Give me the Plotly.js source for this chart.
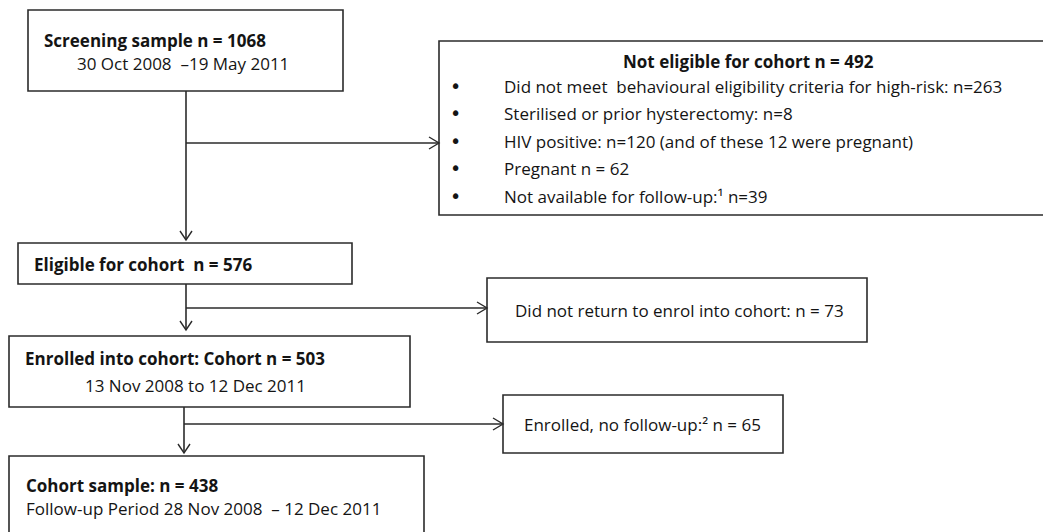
<!DOCTYPE html>
<html>
<head>
<meta charset="utf-8">
<script src="https://cdn.plot.ly/plotly-3.0.1.min.js"></script>
<style>html,body{margin:0;padding:0;background:#fff;}#chart{width:1043px;height:532px;}</style>
</head>
<body>
<div id="chart"></div>
<script>
// ---- data ----
const screeningN = 1068;
const screeningPeriod = "30 Oct 2008  \u201319 May 2011";
const notEligibleN = 492;
const exclusionReasons = [
  "Did not meet  behavioural eligibility criteria for high-risk: n=",
  "Sterilised or prior hysterectomy: n=",
  "HIV positive: n=",
  "Pregnant n = ",
  "Not available for follow-up:\u00b9 n="
];
const exclusionCounts = [263, 8, 120, 62, 39];
const exclusionSuffix = ["", "", " (and of these 12 were pregnant)", "", ""];
const eligibleN = 576;
const notReturnedN = 73;
const enrolledN = 503;
const enrolledPeriod = "13 Nov 2008 to 12 Dec 2011";
const noFollowUpN = 65;
const cohortN = 438;
const followUpPeriod = "Follow-up Period 28 Nov 2008  \u2013 12 Dec 2011";

// ---- layout geometry (pixels) ----
const FONT = "'Open Sans', 'Noto Sans', sans-serif";
const FS = 17;
const TXT = "#141414";
const LINE = "#2b2b2b";
const boxes = [
  [28, 10, 343, 91],
  [439, 41, 1050, 215],
  [18, 243, 352, 284],
  [487, 278, 867, 342],
  [9, 336, 410, 407],
  [503, 395, 783, 453],
  [9, 456, 424, 545]
];
const shapes = [];
boxes.forEach(b => shapes.push({type:"rect", xref:"x", yref:"y", x0:b[0], y0:b[1], x1:b[2], y1:b[3], line:{color:LINE, width:1.6}, fillcolor:"rgba(0,0,0,0)"}));
function seg(x0,y0,x1,y1){ shapes.push({type:"line", xref:"x", yref:"y", x0:x0, y0:y0, x1:x1, y1:y1, line:{color:LINE, width:1.6}}); }
function downHead(x,y){ shapes.push({type:"path", xref:"x", yref:"y", path:`M ${x-6},${y-9} L ${x},${y} L ${x+6},${y-9}`, line:{color:LINE, width:1.4}}); }
function rightHead(x,y){ shapes.push({type:"path", xref:"x", yref:"y", path:`M ${x-10},${y-6} L ${x},${y} L ${x-10},${y+6}`, line:{color:LINE, width:1.4}}); }
// connectors
seg(186, 91, 186, 240); downHead(186, 240);
seg(186, 143, 439, 143); rightHead(439, 143);
seg(186, 284, 186, 330); downHead(186, 330);
seg(186, 308, 487, 308); rightHead(487, 308);
seg(184, 407, 184, 453); downHead(184, 453);
seg(184, 424, 503, 424); rightHead(503, 424);

const ann = [];
function txt(x, y, t, opts){ ann.push(Object.assign({xref:"x", yref:"y", x:x, y:y, text:t, showarrow:false, xanchor:"left", yanchor:"middle", font:{family:FONT, size:FS, color:TXT}}, opts||{})); }

txt(42, 40, `<b>Screening sample n = ${screeningN}</b>`);
txt(75, 63, screeningPeriod);
txt(748, 61, `<b>Not eligible for cohort n = ${notEligibleN}</b>`, {xanchor:"center"});
const rowY = [86, 113, 141, 168, 196];
exclusionReasons.forEach((r, i) => {
  txt(455, rowY[i], "\u2022", {xanchor:"center", font:{family:"'DejaVu Sans', sans-serif", size:19, color:TXT}});
  txt(502, rowY[i], r + exclusionCounts[i] + exclusionSuffix[i]);
});
txt(32, 264, `<b>Eligible for cohort  n = ${eligibleN}</b>`);
txt(513, 310, `Did not return to enrol into cohort: n = ${notReturnedN}`);
txt(23, 358, `<b>Enrolled into cohort: Cohort n = ${enrolledN}</b>`);
txt(83, 385, enrolledPeriod);
txt(522, 424, `Enrolled, no follow-up:\u00b2 n = ${noFollowUpN}`);
txt(24, 485, `<b>Cohort sample: n = ${cohortN}</b>`);
txt(24, 508, followUpPeriod);

const layout = {
  width:1043, height:532,
  margin:{l:0, r:0, t:0, b:0},
  paper_bgcolor:"#fff", plot_bgcolor:"#fff",
  xaxis:{range:[0,1043], visible:false, fixedrange:true},
  yaxis:{range:[532,0], visible:false, fixedrange:true},
  shapes:shapes, annotations:ann, showlegend:false
};
Plotly.newPlot("chart", [{x:[], y:[], type:"scatter", mode:"markers", hoverinfo:"skip"}], layout, {displayModeBar:false, staticPlot:true});
</script>
</body>
</html>
